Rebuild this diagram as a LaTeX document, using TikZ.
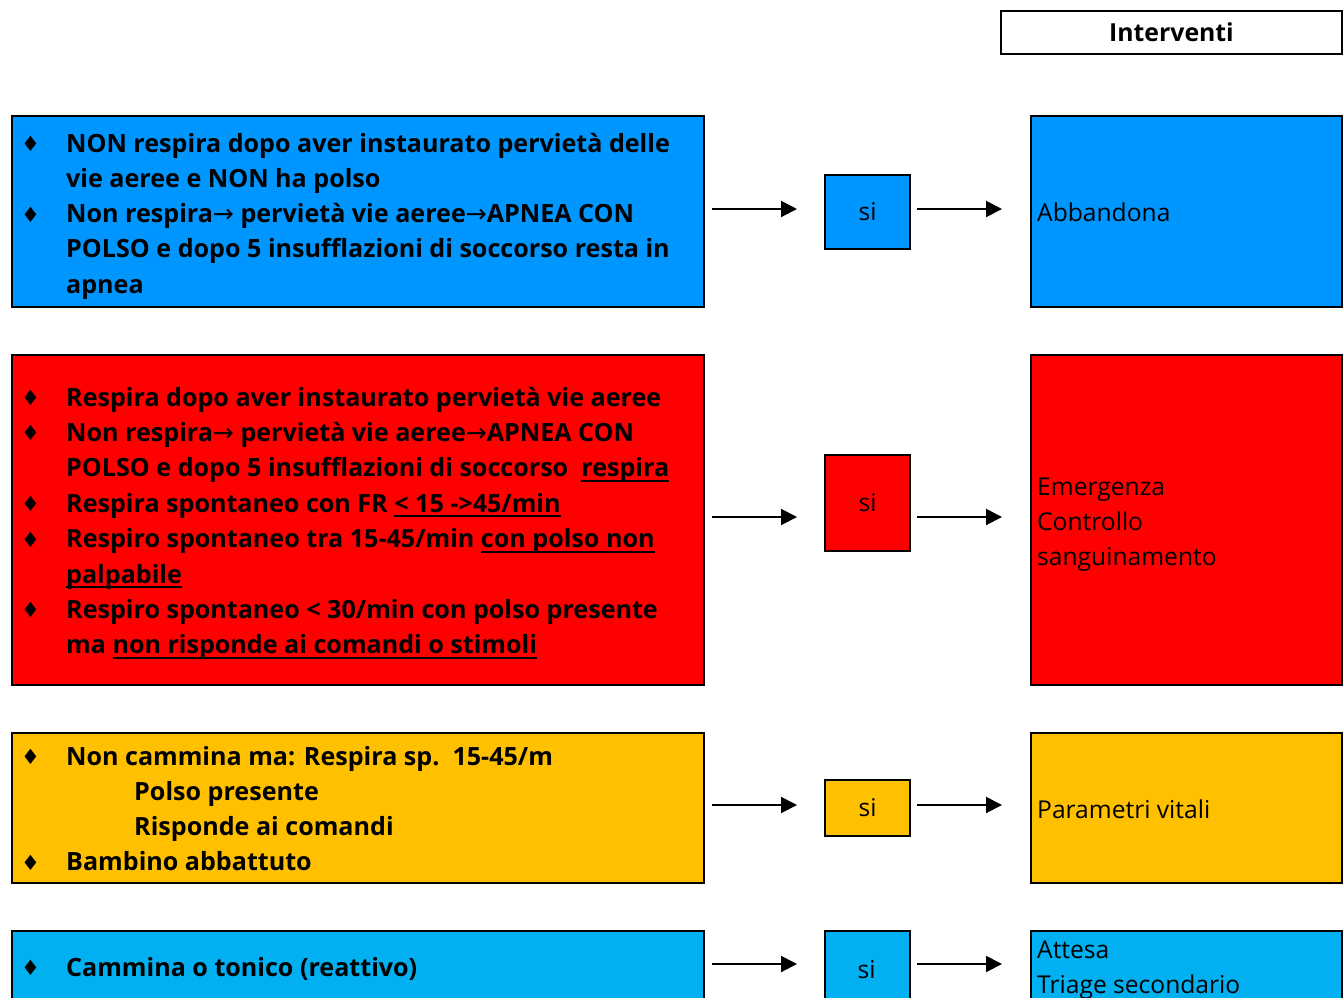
\documentclass[tikz,border=0pt]{standalone}
\usepackage{fontspec}
\usepackage{graphicx}
\setmainfont{Open Sans}
\newfontfamily\symfont{DejaVu Sans}
\usetikzlibrary{arrows.meta,calc}

\definecolor{skyblue}{RGB}{0,150,255}
\definecolor{alertred}{RGB}{255,0,0}
\definecolor{amber}{RGB}{255,192,0}
\definecolor{lightcyan}{RGB}{0,176,240}

% underline at a fixed depth below the baseline
\newsavebox\undlbox
\newcommand\undl[2][-5.2pt]{\sbox\undlbox{#2}\rlap{\rule[#1]{\wd\undlbox}{1.8pt}}\usebox\undlbox}
% bullet, continuation indent, small arrow
\newcommand\dmd{\makebox[45pt][l]{\raisebox{0.5pt}{\symfont\fontsize{21}{21}\selectfont ♦}}}
\newcommand\cont{\hspace*{45pt}}
\newcommand\rarr{{\symfont\mdseries →}}

\tikzset{
  box/.style={draw=black, line width=2pt, rectangle, inner sep=0pt, anchor=north west},
  sibox/.style={box, minimum width=85pt, font=\fontsize{24.5}{29}\selectfont},
  crit/.style={anchor=base west, inner sep=0pt, font=\fontsize{25.1}{30}\selectfont\bfseries},
  act/.style={anchor=base west, inner sep=0pt, font=\fontsize{24.6}{29}\selectfont},
  arr/.style={line width=2pt, -{Triangle[length=16pt,width=16pt]}},
}

\begin{document}
\begin{tikzpicture}[x=1pt,y=-1pt]
\useasboundingbox (0,0) rectangle (1343,997);

% header
\node[box, minimum width=341pt, minimum height=43pt,
      font=\fontsize{24.8}{29}\selectfont\bfseries] (hdr) at (1000,10) {Interventi};

% ---- row 1 ----
\node[box, fill=skyblue, minimum width=692pt, minimum height=191pt] (c1) at (11,115) {};
\node[sibox, fill=skyblue, minimum height=74pt] (s1) at (824,174) {si};
\node[box, fill=skyblue, minimum width=311pt, minimum height=191pt] (r1) at (1030,115) {};
\node[crit] (p1a) at (21,152)   {\dmd NON respira dopo aver instaurato pervietà delle};
\node[crit] (p1b) at (21,187.3) {\cont vie aeree e NON ha polso};
\node[crit] (p1c) at (21,222.6) {\dmd Non respira\rarr\ pervietà vie aeree\rarr APNEA CON};
\node[crit] (p1d) at (21,257.9) {\cont POLSO e dopo 5 insufflazioni di soccorso resta in};
\node[crit] (p1e) at (21,293.2) {\cont apnea};
\node[act] (q1a) at (1037,221) {Abbandona};
\draw[arr] ($(c1.east)+(7,-2.5)$) -- ($(s1.west |- c1.east)+(-27,-2.5)$);
\draw[arr] ($(s1.east |- c1.east)+(6,-2.5)$) -- ($(r1.west |- c1.east)+(-28,-2.5)$);

% ---- row 2 ----
\node[box, fill=alertred, minimum width=692pt, minimum height=330pt] (c2) at (11,354) {};
\node[sibox, fill=alertred, minimum height=96pt] (s2) at (824,454) {si};
\node[box, fill=alertred, minimum width=311pt, minimum height=330pt] (r2) at (1030,354) {};
\node[crit] (p2a) at (21,406)   {\dmd Respira dopo aver instaurato pervietà vie aeree};
\node[crit] (p2b) at (21,441.4) {\dmd Non respira\rarr\ pervietà vie aeree\rarr APNEA CON};
\node[crit] (p2c) at (21,476.8) {\cont POLSO e dopo 5 insufflazioni di soccorso\ \ \undl{respira}};
\node[crit] (p2d) at (21,512.2) {\dmd Respira spontaneo con FR \undl[-4.5pt]{< 15 ->45/min}};
\node[crit] (p2e) at (21,547.6) {\dmd Respiro spontaneo tra 15-45/min \undl{con polso non}};
\node[crit] (p2f) at (21,583)   {\cont \undl{palpabile}};
\node[crit] (p2g) at (21,618.4) {\dmd Respiro spontaneo < 30/min con polso presente};
\node[crit] (p2h) at (21,653.8) {\cont ma \undl{non risponde ai comandi o stimoli}};
\node[act] (q2a) at (1037,495) {Emergenza};
\node[act] (q2b) at (1037,530) {Controllo};
\node[act] (q2c) at (1037,565) {sanguinamento};
\draw[arr] ($(c2.east)+(7,-3)$) -- ($(s2.west |- c2.east)+(-27,-3)$);
\draw[arr] ($(s2.east |- c2.east)+(6,-3)$) -- ($(r2.west |- c2.east)+(-28,-3)$);

% ---- row 3 ----
\node[box, fill=amber, minimum width=692pt, minimum height=150pt] (c3) at (11,732) {};
\node[sibox, fill=amber, minimum height=56pt] (s3) at (824,779) {si};
\node[box, fill=amber, minimum width=311pt, minimum height=150pt] (r3) at (1030,732) {};
\node[crit] (p3a) at (21,765)   {\dmd Non cammina ma: Respira sp.\ \ 15-45/m};
\node[crit] (p3b) at (21,800.3) {\hspace*{113pt}Polso presente};
\node[crit] (p3c) at (21,835.6) {\hspace*{113pt}Risponde ai comandi};
\node[crit] (p3d) at (21,870.9) {\dmd Bambino abbattuto};
\node[act] (q3a) at (1037,818) {Parametri vitali};
\draw[arr] ($(c3.east)+(7,-3)$) -- ($(s3.west |- c3.east)+(-27,-3)$);
\draw[arr] ($(s3.east |- c3.east)+(6,-3)$) -- ($(r3.west |- c3.east)+(-28,-3)$);

% ---- row 4 ----
\node[box, fill=lightcyan, minimum width=692pt, minimum height=72pt] (c4) at (11,930) {};
\node[sibox, fill=lightcyan, minimum height=80pt] (s4) at (824,930) {};
\node[box, fill=lightcyan, minimum width=311pt, minimum height=72pt] (r4) at (1030,930) {};
\node[act, anchor=base] (s4t) at (866.5,978) {si};
\node[crit] (p4a) at (21,976) {\dmd Cammina o tonico (reattivo)};
\node[act] (q4a) at (1037,958) {Attesa};
\node[act] (q4b) at (1037,993) {Triage secondario};
\draw[arr] ($(c4.east)+(7,-3)$) -- ($(s4.west |- c4.east)+(-27,-3)$);
\draw[arr] ($(s4.east |- c4.east)+(6,-3)$) -- ($(r4.west |- c4.east)+(-28,-3)$);
\end{tikzpicture}
\end{document}
